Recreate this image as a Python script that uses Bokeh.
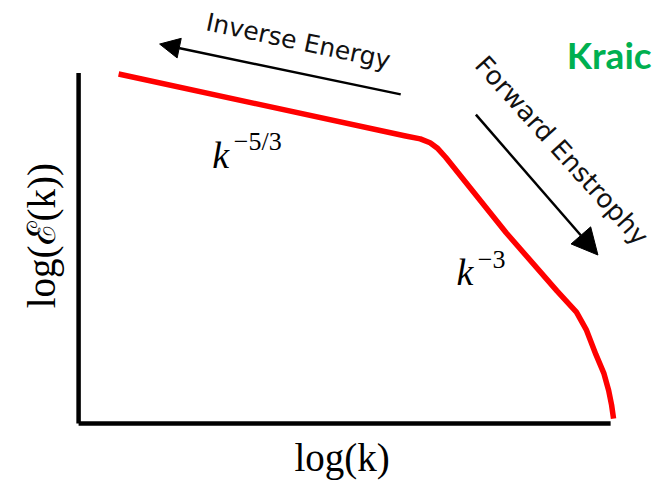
from bokeh.plotting import figure
from bokeh.models import Range1d, Arrow, NormalHead
from bokeh.core.properties import value
from bokeh.embed import file_html
from bokeh.resources import INLINE
import math

# --- data (log-units of the schematic) ---
axis_x0 = [0.0, 0.0]
axis_y0 = [0.0, 0.0]
axis_x1 = [0.0, 10.9]
axis_y1 = [7.24, 0.0]

spec_logk = [0.82, 6.70, 7.00, 7.20, 7.36, 7.52, 8.76, 9.80, 10.20, 10.40, 10.60, 10.76, 10.86, 10.92, 10.96]
spec_logE = [7.22, 5.94, 5.88, 5.80, 5.68, 5.50, 3.94, 2.74, 2.30, 1.94, 1.42, 1.04, 0.68, 0.38, 0.10]

inv_arrow = [6.6, 6.8, 1.66, 7.84]      # x_start, y_start, x_end, y_end
fwd_arrow = [8.14, 6.38, 10.64, 3.48]

p = figure(width=656, height=480, output_backend="svg", toolbar_location=None,
           x_range=Range1d(-1.6, 11.84), y_range=Range1d(-1.18, 8.74),
           min_border=0, outline_line_color=None)
p.xaxis.visible = False
p.yaxis.visible = False
p.grid.visible = False

# axes as an L
p.segment(x0=axis_x0, y0=axis_y0, x1=axis_x1, y1=axis_y1,
          line_color="black", line_width=4.5)

# spectrum
p.line(spec_logk, spec_logE, line_color="#ff0000", line_width=5.5, line_join="round")

# arrows
p.add_layout(Arrow(x_start=inv_arrow[0], y_start=inv_arrow[1], x_end=inv_arrow[2], y_end=inv_arrow[3],
                   line_width=2.5, line_color="black",
                   end=NormalHead(size=20, fill_color="black", line_color="black")))
p.add_layout(Arrow(x_start=fwd_arrow[0], y_start=fwd_arrow[1], x_end=fwd_arrow[2], y_end=fwd_arrow[3],
                   line_width=2.5, line_color="black",
                   end=NormalHead(size=26, fill_color="black", line_color="black")))

# labels
p.text(x=[4.5], y=[7.9], text=["Inverse Energy"], angle=[math.radians(-12)],
       text_font=value("DejaVu Sans"), text_font_size="25px", text_color="#111111",
       text_align="center", text_baseline="middle")
p.text(x=[9.9], y=[5.64], text=["Forward Enstrophy"], angle=[math.radians(-48)],
       text_font=value("DejaVu Sans"), text_font_size="26px", text_color="#111111",
       text_align="center", text_baseline="middle")

p.text(x=[2.74], y=[5.54], text=["k"], text_font=value("Liberation Serif"),
       text_font_style="italic", text_font_size="38px", text_baseline="alphabetic")
p.text(x=[3.18], y=[5.82], text=["\u22125/3"], text_font=value("Liberation Serif"),
       text_font_size="26px", text_baseline="alphabetic")
p.text(x=[7.74], y=[3.12], text=["k"], text_font=value("Liberation Serif"),
       text_font_style="italic", text_font_size="38px", text_baseline="alphabetic")
p.text(x=[8.18], y=[3.38], text=["\u22123"], text_font=value("Liberation Serif"),
       text_font_size="26px", text_baseline="alphabetic")

p.text(x=[-0.76], y=[3.88], text=["log(\u2130(k))"], angle=[math.pi / 2],
       text_font=value("Liberation Serif"), text_font_size="39px",
       text_align="center", text_baseline="middle")
p.text(x=[5.4], y=[-0.7], text=["log(k)"],
       text_font=value("Liberation Serif"), text_font_size="39px",
       text_align="center", text_baseline="middle")

p.text(x=[10.0], y=[7.62], text=["Kraic"], text_font=value("Lato"),
       text_font_style="bold", text_font_size="37px", text_color="#00b050",
       text_baseline="alphabetic")

open("out.html", "w").write(file_html(p, INLINE))
